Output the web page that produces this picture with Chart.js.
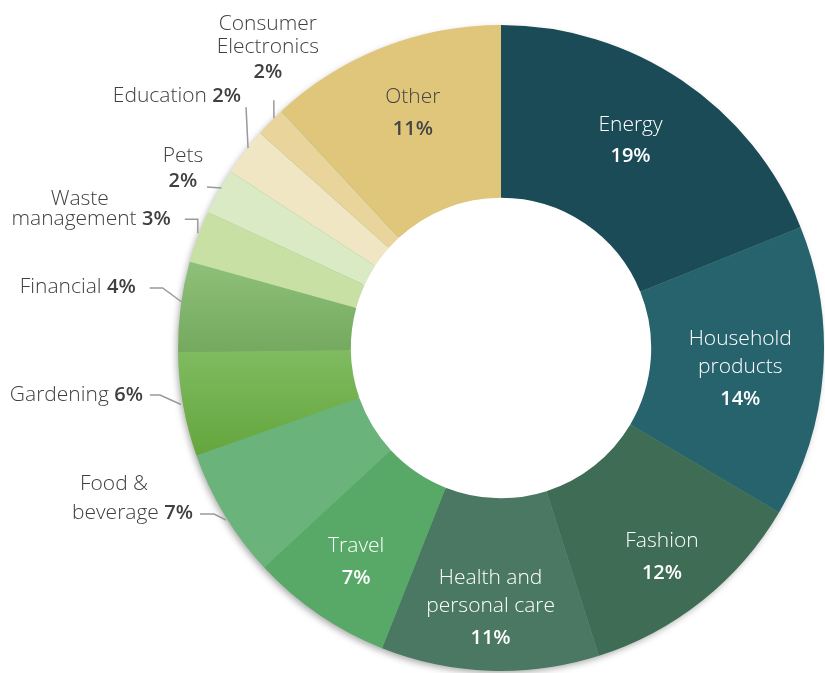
<!DOCTYPE html>
<html>
<head>
<meta charset="utf-8">
<script src="https://cdn.jsdelivr.net/npm/chart.js@4.4.0/dist/chart.umd.min.js"></script>
<style>
  html, body { margin: 0; padding: 0; background: #fff; }
  #wrap { width: 825px; height: 673px; }
</style>
</head>
<body>
<div id="wrap"><canvas id="chart" width="825" height="673"></canvas></div>
<script>
// slice sizes (share of the ring, %)
const categories = ["Energy", "Household products", "Fashion", "Health and personal care", "Travel",
  "Food & beverage", "Gardening", "Financial", "Waste management", "Pets", "Education",
  "Consumer Electronics", "Other"];
const shares = [18.9, 14.6, 11.6, 10.9, 7.1, 6.5, 5.2, 4.5, 2.6, 2.3, 2.4, 1.5, 11.9];
// printed percentages
const pctLabels = ["19%", "14%", "12%", "11%", "7%", "7%", "6%", "4%", "3%", "2%", "2%", "2%", "11%"];

const colors = ["#1a4b57", "#27636c", "#3e6c55", "#4a7862", "#58a967", "#6ab37a",
  ["#80bb61", "#64a63d"], ["#8fc079", "#74a95f"], "#c8e0a3", "#d9eac4", "#f1e6c4", "#e9d49b", "#dfc67a"];

const FONT = '"Open Sans", "Liberation Sans", sans-serif';
const CUT = 0.465;

// labels drawn inside the ring: name lines + nudge from the slice middle
const inside = {
  0: { lines: ["Energy"], nudge: [-7, -5], color: "#ffffff" },
  1: { lines: ["Household", "products"], nudge: [-4, 3], color: "#ffffff" },
  2: { lines: ["Fashion"], nudge: [9, 18], color: "#ffffff" },
  3: { lines: ["Health and", "personal care"], nudge: [-2, 16], color: "#ffffff" },
  4: { lines: ["Travel"], nudge: [-7, 13], color: "#ffffff" },
  12: { lines: ["Other"], nudge: [1, -8], color: "#454545" }
};

// labels outside: text lines relative to the slice's outer edge point, leader line too
const outside = {
  5: { lines: [{ t: "Food &", dx: -110.5, dy: -31, align: "center" },
               { t: "beverage", pct: true, dx: -31.5, dy: -2, align: "right" }],
       leader: [[-24.5, -1], [-10.5, -1], [1.5, 5]] },
  6: { lines: [{ t: "Gardening", pct: true, dx: -40, dy: -9.5, align: "right" }],
       leader: [[-33, -9.5], [-23, -9.5], [-2, 0]] },
  7: { lines: [{ t: "Financial", pct: true, dx: -45, dy: -19.5, align: "right" }],
       leader: [[-31, -18.5], [-18, -18.5], [1, -4.5]] },
  8: { lines: [{ t: "Waste", dx: -118, dy: -37.5, align: "center" },
               { t: "management", pct: true, dx: -27, dy: -17.5, align: "right" }],
       leader: [[-13, -17.5], [0, -17.5], [0, -3.5]] },
  9: { lines: [{ t: "Pets", dx: -35.5, dy: -35.5, align: "center" },
               { t: "", pct: true, dx: -35.5, dy: -10.5, align: "center" }],
       leader: [[-11.5, -4.5], [3, -3.5]] },
  10: { lines: [{ t: "Education", pct: true, dx: -3.5, dy: -55.5, align: "right" }],
        leader: [[1.5, -44.5], [3.5, -3.5]] },
  11: { lines: [{ t: "Consumer", dx: -2.6, dy: -97.6, align: "center" },
                { t: "Electronics", dx: -2.6, dy: -74.6, align: "center" },
                { t: "", pct: true, dx: -2.6, dy: -49.6, align: "center" }],
        leader: [[3.4, -21.6], [3.4, -3.6]] }
};

function sliceColor(c) {
  const col = colors[c.dataIndex];
  if (!Array.isArray(col)) return col;
  const area = c.chart.chartArea;
  if (!area) return col[0];
  const total = shares.reduce((a, b) => a + b, 0);
  let before = 0;
  for (let i = 0; i < c.dataIndex; i++) before += shares[i];
  const a0 = before / total * Math.PI * 2 - Math.PI / 2;
  const a1 = (before + shares[c.dataIndex]) / total * Math.PI * 2 - Math.PI / 2;
  const cy = (area.top + area.bottom) / 2;
  const R = Math.min(area.width, area.height) / 2;
  const ys = [cy + R * Math.sin(a0), cy + R * Math.sin(a1), cy + R * CUT * Math.sin(a0), cy + R * CUT * Math.sin(a1)];
  const g = c.chart.ctx.createLinearGradient(0, Math.min(...ys), 0, Math.max(...ys));
  g.addColorStop(0, col[0]);
  g.addColorStop(1, col[1]);
  return g;
}

function drawRuns(ctx, runs, x, y, align) {
  let w = 0;
  for (const r of runs) { ctx.font = r.font; w += ctx.measureText(r.t).width; }
  let sx = align === "right" ? x - w : align === "center" ? x - w / 2 : x;
  ctx.textAlign = "left";
  for (const r of runs) {
    ctx.font = r.font;
    ctx.fillText(r.t, sx, y);
    sx += ctx.measureText(r.t).width;
  }
}

const ringShadow = {
  id: "ringShadow",
  beforeDatasetsDraw(chart) {
    const arc = chart.getDatasetMeta(0).data[0];
    if (!arc) return;
    const p = arc.getProps(["x", "y", "outerRadius", "innerRadius"], true);
    const ctx = chart.ctx;
    ctx.save();
    ctx.beginPath();
    ctx.rect(0, 0, chart.width, chart.height);
    ctx.arc(p.x, p.y, p.innerRadius + 2, 0, Math.PI * 2);
    ctx.clip("evenodd");
    ctx.shadowColor = "rgba(0,0,0,0.35)";
    ctx.shadowBlur = 7;
    ctx.shadowOffsetX = -2;
    ctx.shadowOffsetY = 3;
    ctx.fillStyle = "#6ab37a";
    ctx.beginPath();
    ctx.arc(p.x, p.y, p.outerRadius - 1, 0, Math.PI * 2);
    ctx.fill();
    ctx.restore();
  }
};

const sliceLabels = {
  id: "sliceLabels",
  afterDatasetsDraw(chart) {
    const ctx = chart.ctx;
    const arcs = chart.getDatasetMeta(0).data;
    const reg = "300 21px " + FONT;
    const bold = "600 20px " + FONT;
    ctx.save();
    ctx.textBaseline = "middle";
    arcs.forEach((arc, i) => {
      const p = arc.getProps(["x", "y", "startAngle", "endAngle", "outerRadius"], true);
      const mid = (p.startAngle + p.endAngle) / 2;
      if (inside[i]) {
        const spec = inside[i];
        const cx = p.x + 244 * Math.cos(mid) + spec.nudge[0];
        const cy = p.y + 244 * Math.sin(mid) + spec.nudge[1];
        const total = (spec.lines.length - 1) * 28 + 32;
        let y = cy - total / 2;
        ctx.fillStyle = spec.color;
        spec.lines.forEach(ln => {
          drawRuns(ctx, [{ t: ln, font: reg }], cx, y, "center");
          y += 28;
        });
        y += 4;
        drawRuns(ctx, [{ t: pctLabels[i], font: bold }], cx, y, "center");
      } else if (outside[i]) {
        const spec = outside[i];
        const ax = p.x + p.outerRadius * Math.cos(mid);
        const ay = p.y + p.outerRadius * Math.sin(mid);
        ctx.strokeStyle = "#9a9a9a";
        ctx.lineWidth = 1.5;
        ctx.beginPath();
        spec.leader.forEach((pt, k) => {
          if (k === 0) ctx.moveTo(ax + pt[0], ay + pt[1]);
          else ctx.lineTo(ax + pt[0], ay + pt[1]);
        });
        ctx.stroke();
        ctx.fillStyle = "#404040";
        spec.lines.forEach(ln => {
          const runs = [];
          if (ln.t) runs.push({ t: ln.pct ? ln.t + " " : ln.t, font: reg });
          if (ln.pct) runs.push({ t: pctLabels[i], font: bold });
          drawRuns(ctx, runs, ax + ln.dx, ay + ln.dy, ln.align);
        });
      }
    });
    ctx.restore();
  }
};

const ctx = document.getElementById("chart").getContext("2d");
new Chart(ctx, {
  type: "doughnut",
  data: {
    labels: categories,
    datasets: [{
      data: shares,
      backgroundColor: sliceColor,
      borderWidth: 0
    }]
  },
  options: {
    responsive: false,
    animation: false,
    cutout: (CUT * 100) + "%",
    layout: { padding: { left: 178, right: 1, top: 25, bottom: 2 } },
    plugins: {
      legend: { display: false },
      tooltip: { enabled: false }
    }
  },
  plugins: [ringShadow, sliceLabels]
});
</script>
</body>
</html>
